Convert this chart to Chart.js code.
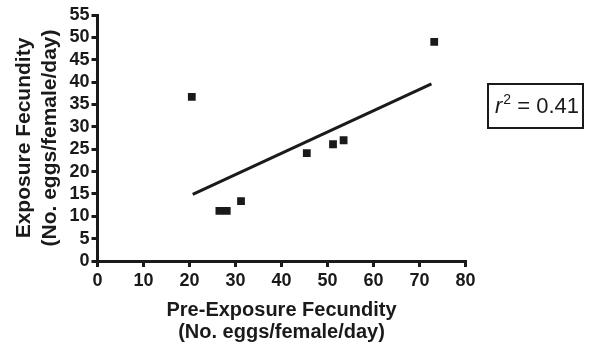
<!DOCTYPE html>
<html>
<head>
<meta charset="utf-8">
<title>Fecundity scatter</title>
<script src="https://cdn.jsdelivr.net/npm/chart.js@4.4.1/dist/chart.umd.min.js"></script>
<style>
  body { margin: 0; background: #fff; }
  #wrap { width: 591px; height: 345px; }
</style>
</head>
<body>
<div id="wrap"><canvas id="fecChart" width="591" height="345"></canvas></div>
<script>
// Data

// pre-exposure vs exposure fecundity (eggs/female/day)
const preExposure = [20.5, 26.5, 28.1, 31.2, 45.5, 51.2, 53.5, 73.2];
const exposure    = [36.7, 11.2, 11.2, 13.4, 24.1, 26.1, 27.0, 49.0];

// regression line end points
const fitX = [20.7, 72.6];
const fitY = [14.9, 39.6];

const xTicks = [0, 10, 20, 30, 40, 50, 60, 70, 80];
const yTicks = [0, 5, 10, 15, 20, 25, 30, 35, 40, 45, 50, 55];

const rSquared = "0.41";

const ink = "#1a1a1a";
const family = "'Liberation Sans', Arial, Helvetica, sans-serif";

// r^2 box on the right
const rBoxPlugin = {
    id: "rBox",
    afterDraw(chart) {
        const ctx = chart.ctx;
        ctx.save();
        ctx.strokeStyle = ink;
        ctx.lineWidth = 2;
        ctx.strokeRect(488, 84, 95, 44);

        ctx.fillStyle = ink;
        ctx.textBaseline = "alphabetic";
        let x = 495;
        const base = 113;

        ctx.font = "italic 22px " + family;
        ctx.fillText("r", x, base);
        x += ctx.measureText("r").width + 1;

        ctx.font = "14px " + family;
        ctx.fillText("2", x, base - 9);
        x += ctx.measureText("2").width;

        ctx.font = "22px " + family;
        ctx.fillText(" = " + rSquared, x, base);
        ctx.restore();
    }
};

const points = preExposure.map((v, i) => ({ x: v, y: exposure[i] }));
const fitLine = fitX.map((v, i) => ({ x: v, y: fitY[i] }));

new Chart(document.getElementById("fecChart"), {
    type: "scatter",
    data: {
        datasets: [
            {
                data: points,
                pointStyle: "rect",
                pointRadius: 5.5,
                pointHoverRadius: 5.5,
                backgroundColor: ink,
                borderWidth: 0
            },
            {
                data: fitLine,
                showLine: true,
                borderColor: ink,
                borderWidth: 3,
                pointRadius: 0,
                pointHoverRadius: 0
            }
        ]
    },
    options: {
        responsive: false,
        animation: false,
        events: [],
        layout: { padding: { top: 15, right: 125.5, left: 0, bottom: 0 } },
        plugins: {
            legend: { display: false },
            tooltip: { enabled: false }
        },
        scales: {
            x: {
                type: "linear",
                min: 0,
                max: 80,
                afterBuildTicks(scale) {
                    scale.ticks = xTicks.map(v => ({ value: v }));
                },
                afterFit(scale) {
                    scale.height = 84;
                },
                border: { display: true, color: ink, width: 3 },
                grid: {
                    drawOnChartArea: false,
                    drawTicks: true,
                    tickLength: 6,
                    color: ink,
                    lineWidth: 3
                },
                ticks: {
                    color: ink,
                    padding: 3,
                    autoSkip: false,
                    maxRotation: 0,
                    font: { family, size: 18, weight: "bold" }
                },
                title: {
                    display: true,
                    text: ["Pre-Exposure Fecundity", "(No. eggs/female/day)"],
                    color: ink,
                    padding: { top: 0, bottom: 2 },
                    font: { family, size: 20, weight: "bold", lineHeight: 1.1 }
                }
            },
            y: {
                type: "linear",
                min: 0,
                max: 55,
                afterBuildTicks(scale) {
                    scale.ticks = yTicks.map(v => ({ value: v }));
                },
                afterFit(scale) {
                    scale.width = 97.5;
                },
                border: { display: true, color: ink, width: 3 },
                grid: {
                    drawOnChartArea: false,
                    drawTicks: true,
                    tickLength: 6,
                    color: ink,
                    lineWidth: 3
                },
                ticks: {
                    color: ink,
                    padding: 2,
                    autoSkip: false,
                    font: { family, size: 18, weight: "bold" }
                },
                title: {
                    display: true,
                    text: ["Exposure Fecundity", "(No. eggs/female/day)"],
                    color: ink,
                    padding: { top: 11, bottom: 0 },
                    font: { family, size: 21, weight: "bold", lineHeight: 1.25 }
                }
            }
        }
    },
    plugins: [rBoxPlugin]
});
</script>
</body>
</html>
